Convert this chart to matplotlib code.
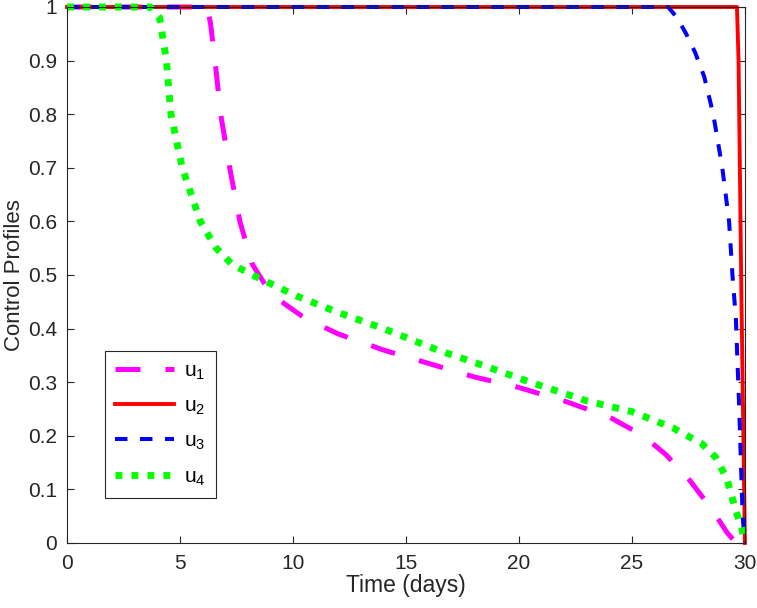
import numpy as np
import matplotlib
matplotlib.use("Agg")
import matplotlib.pyplot as plt

plt.rcParams['font.family'] = ['Liberation Sans', 'DejaVu Sans']
plt.rcParams['mathtext.fontset'] = 'custom'
plt.rcParams['mathtext.rm'] = 'Liberation Sans'

# ==================== 数据 ====================
u1_t = [0, 6.2, 6.35, 6.55, 6.8, 7.2, 7.65, 8.2, 8.8, 9.5, 10.5, 12, 14, 16, 18, 20, 22,
        24, 25.5, 26.5, 27.5, 28.5, 29.2, 29.6]
u1 = [1, 1, 0.97, 0.9, 0.8, 0.7, 0.6, 0.52, 0.48, 0.45, 0.42, 0.39, 0.36, 0.335, 0.31,
      0.29, 0.265, 0.235, 0.2, 0.165, 0.12, 0.065, 0.02, 0]

u2_t = [0, 29.65, 29.72, 29.85, 30]
u2 = [1, 1, 0.9, 0.45, 0]

u3_t = [0, 26.6, 27.0, 27.4, 27.8, 28.2, 28.6, 29.0, 29.3, 29.45, 29.6, 29.75, 29.9, 30]
u3 = [1, 1, 0.98, 0.95, 0.915, 0.87, 0.8, 0.7, 0.6, 0.5, 0.42, 0.25, 0.05, 0]

u4_t = [0, 3.7, 4.1, 4.4, 4.6, 5.1, 5.5, 5.9, 6.6, 7.3, 8.2, 9.2, 10.2, 12, 14, 16.4,
        18.5, 20.5, 23, 25, 26.8, 28.1, 28.7, 29.2, 29.6, 29.85, 30]
u4 = [1, 1, 0.98, 0.9, 0.8, 0.7, 0.65, 0.6, 0.55, 0.52, 0.5, 0.48, 0.46, 0.43, 0.40,
      0.36, 0.33, 0.30, 0.265, 0.245, 0.215, 0.185, 0.16, 0.12, 0.06, 0.03, 0]

labels = [r'u$_\mathregular{1}$', r'u$_\mathregular{2}$', r'u$_\mathregular{3}$', r'u$_\mathregular{4}$']

# ==================== 画图 ====================
fig = plt.figure(figsize=(7.57, 6.08), dpi=100)
ax = fig.add_axes([0.0885, 0.107, 0.8955, 0.8815])

ax.plot(u1_t, u1, color='#ff00ff', lw=3.6, dashes=(5, 5), label=labels[0], clip_on=False)
ax.plot(u2_t, u2, color='#ff0000', lw=2.8, label=labels[1], clip_on=False)
ax.plot(u3_t, u3, color='#0000ff', lw=2.9, dashes=(3.1, 3.1), label=labels[2], clip_on=False)
ax.plot(u4_t, u4, color='#00ff00', lw=5.0, dashes=(1, 1.3), dash_capstyle='butt',
        label=labels[3], clip_on=False)

ax.set_xlim(0, 30)
ax.set_ylim(0, 1)
ax.set_xticks(np.arange(0, 31, 5))
ax.set_yticks(np.round(np.arange(0, 1.01, 0.1), 1))
ax.set_yticklabels(['0', '0.1', '0.2', '0.3', '0.4', '0.5', '0.6', '0.7', '0.8', '0.9', '1'])

gray = '#262626'
for s in ax.spines.values():
    s.set_color(gray)
    s.set_linewidth(0.8)
ax.tick_params(direction='in', length=5, width=0.8, colors=gray, labelsize=15,
               top=True, right=True)
ax.tick_params(axis='x', pad=8)
ax.tick_params(axis='y', pad=7)
ax.set_xlabel('Time (days)', fontsize=16.5, color=gray, labelpad=1)
ax.set_ylabel('Control Profiles', fontsize=16, color=gray, labelpad=2)

leg = ax.legend(loc='lower left', bbox_to_anchor=(0.056, 0.084), borderaxespad=0,
                fontsize=15, handlelength=2.8, fancybox=False, framealpha=1,
                borderpad=0.5, labelspacing=0.7, handletextpad=0.5)
leg.get_frame().set_edgecolor(gray)
leg.get_frame().set_linewidth(0.8)

fig.savefig('out.png', dpi=100)
